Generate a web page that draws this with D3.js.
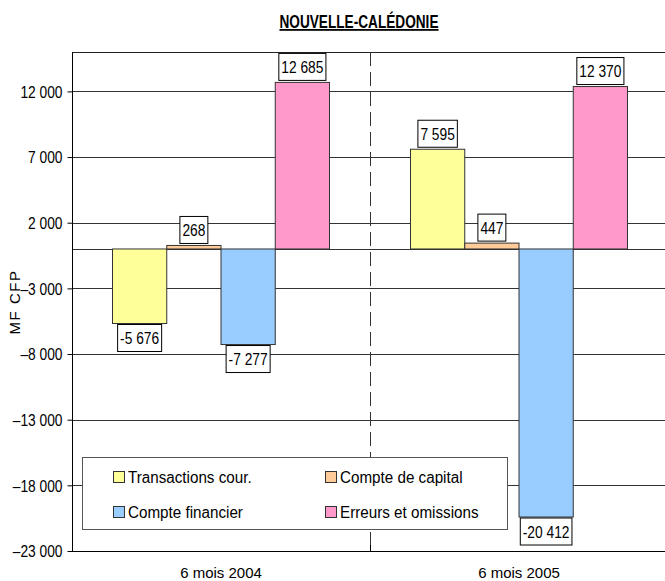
<!DOCTYPE html>
<html><head><meta charset="utf-8">
<script src="https://cdn.jsdelivr.net/npm/d3@7"></script>
<style>
html,body{margin:0;padding:0;background:#fff;}
svg{display:block;font-family:"Liberation Sans",Arial,sans-serif;}
</style></head>
<body>
<svg id="c" width="665" height="581"></svg>
<script>
const title = "NOUVELLE-CALÉDONIE";
const yTitle = "MF CFP";
const categories = ["6 mois 2004", "6 mois 2005"];
const seriesNames = ["Transactions cour.", "Compte de capital", "Compte financier", "Erreurs et omissions"];
const seriesColors = ["#FFFF99", "#FFCC99", "#99CCFF", "#FF99CC"];
const values2004 = [-5676, 268, -7277, 12685];
const values2005 = [7595, 447, -20412, 12370];
const yTicks = [-23000, -18000, -13000, -8000, -3000, 2000, 7000, 12000];
const yDomain = [-23000, 15000];

(function () {
const data = categories.map((c, i) => ({cat: c, vals: [values2004, values2005][i]}));

const svg = d3.select("#c");
const pLeft = 72, pRight = 668, pTop = 52, pBottom = 551;

const y = d3.scaleLinear().domain(yDomain).range([pBottom, pTop]);
const x0 = d3.scaleBand().domain(categories).range([pLeft, pRight]).padding(0);
const groupW = 217;
const x1 = d3.scaleBand().domain(d3.range(seriesNames.length)).range([0, groupW]).padding(0);
const groupOff = (x0.bandwidth() - groupW) / 2;

const fmtTick = d => (d < 0 ? "–" : "") + d3.format(",")(Math.abs(d)).replace(/,/g, " ");
const fmtVal = d => (d < 0 ? "-" : "") + d3.format(",")(Math.abs(d)).replace(/,/g, " ");

// condense text horizontally (narrow, tall glyphs like the reference)
function condense(sel, k) {
  sel.each(function () {
    const len = this.getComputedTextLength();
    d3.select(this).attr("textLength", len * k).attr("lengthAdjust", "spacingAndGlyphs");
  });
}

// title
const tt = svg.append("text").attr("x", 359).attr("y", 28).attr("text-anchor", "middle")
  .style("font-weight", "bold").style("font-size", "18px")
  .style("text-decoration", "underline").text(title);
tt.attr("textLength", 159).attr("lengthAdjust", "spacingAndGlyphs");

// gridlines
svg.append("g").selectAll("line").data(yTicks.concat([0])).join("line")
  .attr("x1", pLeft).attr("x2", pRight)
  .attr("y1", d => Math.round(y(d)) + 0.5).attr("y2", d => Math.round(y(d)) + 0.5)
  .attr("stroke", "#333").attr("stroke-width", 1);

// top frame line
svg.append("line").attr("x1", pLeft).attr("x2", pRight).attr("y1", pTop + 0.5).attr("y2", pTop + 0.5)
  .attr("stroke", "#222");

// dashed separator
svg.append("line").attr("x1", x0(categories[1]) + 0.5).attr("x2", x0(categories[1]) + 0.5)
  .attr("y1", pTop).attr("y2", pBottom).attr("stroke", "#333").attr("stroke-dasharray", "14,6");

// y axis
const yAxis = d3.axisLeft(y).tickValues(yTicks).tickSize(5).tickPadding(5).tickFormat(fmtTick);
const ga = svg.append("g").attr("transform", `translate(${pLeft + 0.5},0)`).call(yAxis);
ga.select(".domain").attr("stroke", "#000").attr("d", `M0,${pTop}V${pBottom}`);
ga.selectAll(".tick line").attr("stroke", "#000");
ga.selectAll(".tick text").style("font-size", "16px").style("font-family", "'Liberation Sans',Arial,sans-serif")
  .attr("fill", "#000").attr("dy", "0.36em").call(condense, 0.86);

// x axis
const xAxis = d3.axisBottom(x0).tickSize(0).tickPadding(16);
const gx = svg.append("g").attr("transform", `translate(0,${Math.round(pBottom) + 0.5})`).call(xAxis);
gx.select(".domain").attr("stroke", "#000").attr("d", `M${pLeft},0H${pRight}`);
gx.selectAll(".tick text").style("font-size", "15px").style("font-family", "'Liberation Sans',Arial,sans-serif")
  .attr("fill", "#000");
// inner tick between categories
svg.append("line").attr("x1", x0(categories[1]) + 0.5).attr("x2", x0(categories[1]) + 0.5)
  .attr("y1", pBottom - 6).attr("y2", pBottom).attr("stroke", "#000");

// y title
svg.append("text").attr("transform", `translate(20,302) rotate(-90)`).attr("text-anchor", "middle")
  .style("font-size", "15px").style("letter-spacing", "1.5px").text(yTitle);

// bars
const groups = svg.append("g").selectAll("g").data(data).join("g")
  .attr("transform", d => `translate(${x0(d.cat) + groupOff},0)`);
groups.selectAll("rect").data(d => d.vals.map((v, i) => ({v, i}))).join("rect")
  .attr("x", d => x1(d.i)).attr("width", x1.bandwidth())
  .attr("y", d => y(Math.max(0, d.v))).attr("height", d => Math.abs(y(d.v) - y(0)))
  .attr("fill", d => seriesColors[d.i]).attr("stroke", "#333").attr("stroke-width", 1);

// data labels
groups.each(function(g) {
  const grp = d3.select(this);
  g.vals.forEach((v, i) => {
    const cx = x1(i) + x1.bandwidth() / 2;
    const lbl = grp.append("g");
    const tx = lbl.append("text").attr("x", cx).attr("text-anchor", "middle")
      .style("font-size", "16px").text(fmtVal(v));
    tx.call(condense, 0.86);
    const w = +tx.attr("textLength") + 5;
    const h = 27;
    const by = v >= 0 ? y(v) - 2 - h : y(v) + 1;
    lbl.insert("rect", "text").attr("x", cx - w / 2).attr("y", by).attr("width", w).attr("height", h)
      .attr("fill", "#fff").attr("stroke", "#000").attr("stroke-width", 1);
    tx.attr("y", by + h / 2 + 6);
  });
});

// legend
const lg = svg.append("g");
lg.append("rect").attr("x", 82.5).attr("y", 457.5).attr("width", 425).attr("height", 72)
  .attr("fill", "#fff").attr("stroke", "#555");
const legPos = [[113, 477], [325, 477], [113, 512], [325, 512]];
seriesNames.forEach((n, i) => {
  const [lx, ly] = legPos[i];
  lg.append("rect").attr("x", lx + 0.5).attr("y", ly - 5.5).attr("width", 11).attr("height", 11)
    .attr("fill", seriesColors[i]).attr("stroke", "#333");
  lg.append("text").attr("x", lx + 15).attr("y", ly + 6).style("font-size", "16px").text(n)
    .call(condense, 0.95);
});
})();
</script>
</body></html>
